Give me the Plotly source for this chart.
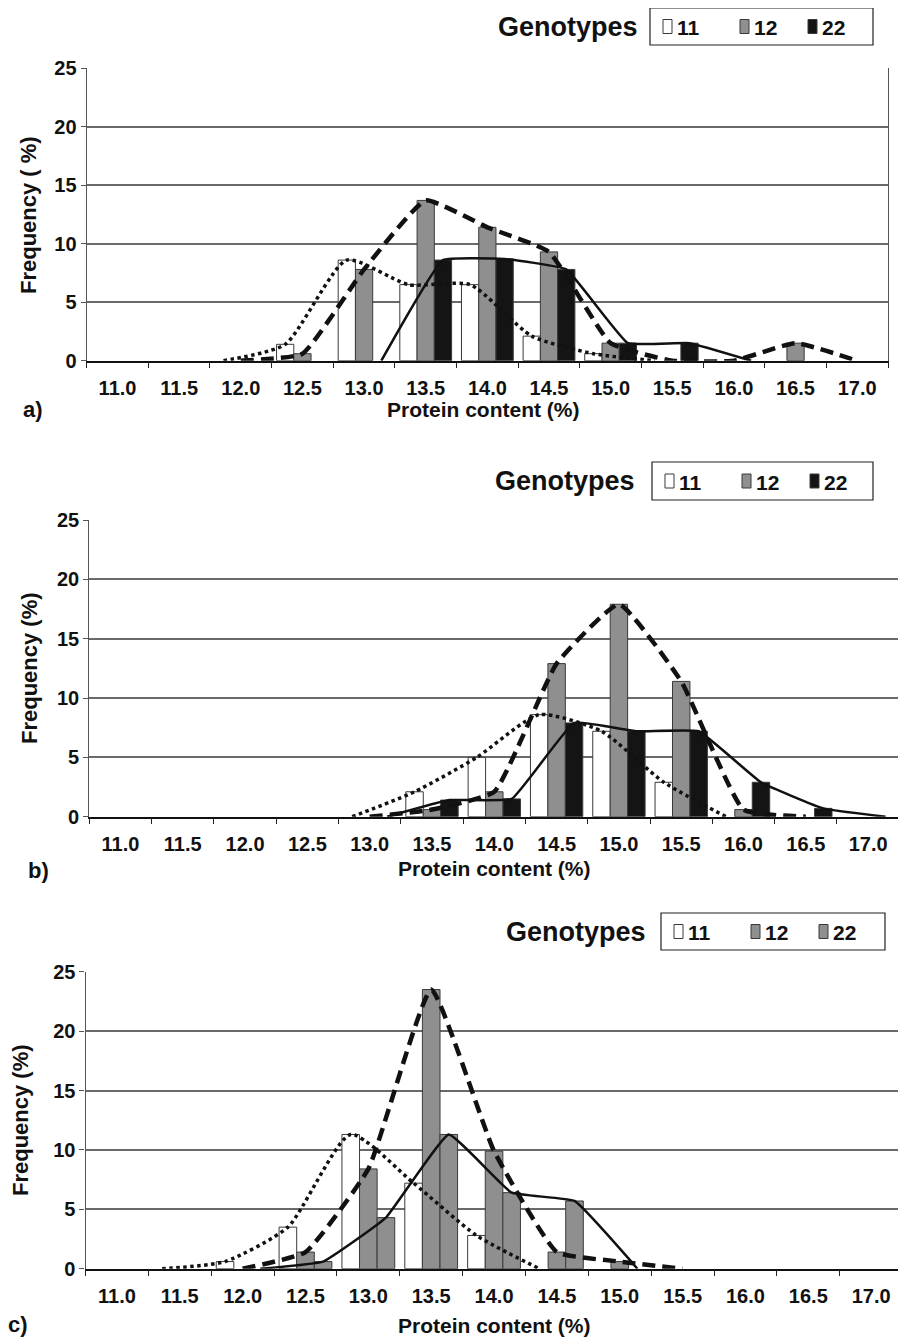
import plotly.graph_objects as go

PAGE_W, PAGE_H = 906, 1337
OFF = 8                      # default body margin of the html page
W, H = PAGE_W - OFF, PAGE_H - OFF

# ---------------- data ----------------
categories = [11.0, 11.5, 12.0, 12.5, 13.0, 13.5, 14.0, 14.5, 15.0, 15.5, 16.0, 16.5, 17.0]
tick_labels = ["11.0", "11.5", "12.0", "12.5", "13.0", "13.5", "14.0", "14.5",
               "15.0", "15.5", "16.0", "16.5", "17.0"]
genotypes = ["11", "12", "22"]

# panel a) frequency (%) per genotype
a_g11 = [0, 0, 0, 1.4, 8.6, 6.5, 6.5, 2.1, 0.6, 0, 0, 0, 0]
a_g12 = [0, 0, 0, 0.6, 7.8, 13.7, 11.4, 9.3, 1.5, 0, 0, 1.5, 0]
a_g22 = [0, 0, 0, 0, 0, 8.6, 8.7, 7.8, 1.5, 1.5, 0, 0, 0]

# panel b)
b_g11 = [0, 0, 0, 0, 0, 2.1, 5.0, 8.6, 7.2, 2.9, 0, 0, 0]
b_g12 = [0, 0, 0, 0, 0, 0.6, 2.1, 12.9, 17.9, 11.4, 0.6, 0, 0]
b_g22 = [0, 0, 0, 0, 0, 1.4, 1.5, 7.9, 7.2, 7.2, 2.9, 0.7, 0]

# panel c)
c_g11 = [0, 0, 0.6, 3.5, 11.3, 7.2, 2.8, 0, 0, 0, 0, 0, 0]
c_g12 = [0, 0, 0, 1.4, 8.4, 23.5, 9.9, 1.4, 0.6, 0, 0, 0, 0]
c_g22 = [0, 0, 0, 0.6, 4.3, 11.3, 6.4, 5.7, 0, 0, 0, 0, 0]

panel_labels = ["a)", "b)", "c)"]
y_titles = ["Frequency ( %)", "Frequency (%)", "Frequency (%)"]
x_title = "Protein content (%)"
legend_title = "Genotypes"

# ---------------- styling ----------------
FONT = "Liberation Sans, Arial, sans-serif"
INK = "#111111"
WHITE, GREY, BLACK = "#ffffff", "#8f8f8f", "#141414"
OUTLINE = "#3a3a3a"
bar_fill = [[WHITE, GREY, BLACK], [WHITE, GREY, BLACK], [WHITE, GREY, GREY]]
BAR_W = 0.14
offsets = [-0.21, -0.07, 0.07]
line_styles = [dict(dash="dot", width=3.5, smoothing=0.6),
               dict(dash="13px,7px", width=4.5, smoothing=0.4),
               dict(dash="solid", width=2.5, smoothing=0.3)]

# positions in page pixels
panels = [
    dict(data=[a_g11, a_g12, a_g22], x=(86.7, 888.0), y=(68.2, 360.7),
         gen=(640, 27), box=(650, 8, 873, 45), lab=(33, 410), xt=(483, 410), yt=(28, 215)),
    dict(data=[b_g11, b_g12, b_g22], x=(89.3, 899.3), y=(520.0, 816.7),
         gen=(637, 481), box=(652, 462, 873, 500), lab=(38, 870), xt=(494, 868), yt=(30, 668)),
    dict(data=[c_g11, c_g12, c_g22], x=(85.5, 902.6), y=(971.7, 1268.7),
         gen=(648, 932), box=(661, 913, 885, 950), lab=(18, 1324), xt=(494, 1325), yt=(20, 1120)),
]
legend_sym_dx = [13, 90, 158]


def px(x):
    return (x - OFF) / W


def py(y):
    return 1 - (y - OFF) / H


fig = go.Figure()
annotations = []
shapes = []
layout = {}

for p_i, p in enumerate(panels):
    sfx = "" if p_i == 0 else str(p_i + 1)
    xref, yref = "x" + sfx, "y" + sfx
    for s_i, vals in enumerate(p["data"]):
        fig.add_trace(go.Bar(
            x=categories, y=[v if v > 0 else None for v in vals],
            width=BAR_W, offset=offsets[s_i],
            marker=dict(color=bar_fill[p_i][s_i], line=dict(color=OUTLINE, width=1)),
            name=genotypes[s_i], xaxis=xref, yaxis=yref, showlegend=False,
        ))
    # frequency polygons through bar centres
    for s_i, vals in enumerate(p["data"]):
        nz = [i for i, v in enumerate(vals) if v > 0]
        lo, hi = max(nz[0] - 1, 0), min(nz[-1] + 1, len(vals) - 1)
        xs = [categories[i] + offsets[s_i] + BAR_W / 2 for i in range(lo, hi + 1)]
        ys = [vals[i] for i in range(lo, hi + 1)]
        fig.add_trace(go.Scatter(
            x=xs, y=ys, mode="lines", xaxis=xref, yaxis=yref, showlegend=False,
            line=dict(color=INK, shape="spline", **line_styles[s_i]),
            cliponaxis=False, name=genotypes[s_i],
        ))

    layout["xaxis" + sfx] = dict(
        domain=[px(p["x"][0]), px(p["x"][1])], anchor=yref,
        range=[10.75, 17.25], tickmode="array", tickvals=categories, ticktext=tick_labels,
        ticks="", ticklabelstandoff=9, showgrid=False, zeroline=False,
        showline=True, linecolor=INK, linewidth=1.5,
        tickfont=dict(family=FONT, size=20, color=INK, weight="bold"),
        minor=dict(tick0=10.75, dtick=0.5, ticks="outside", ticklen=6,
                   tickcolor="#222222", tickwidth=1.2, showgrid=False),
    )
    layout["yaxis" + sfx] = dict(
        domain=[py(p["y"][1]), py(p["y"][0])], anchor=xref,
        range=[0, 25], tickmode="array", tickvals=[0, 5, 10, 15, 20, 25],
        ticks="outside", ticklen=5, tickcolor="#555555",
        showgrid=True, gridcolor="#6a6a6a", gridwidth=1.5, zeroline=False,
        showline=True, linecolor="#555555", linewidth=1.2, mirror=True,
        tickfont=dict(family=FONT, size=20, color=INK, weight="bold"),
    )

    # legend box drawn by hand (title sits outside the frame, as in the original)
    bx0, by0, bx1, by1 = p["box"]
    shapes.append(dict(type="rect", xref="paper", yref="paper",
                       x0=px(bx0), x1=px(bx1), y0=py(by1), y1=py(by0),
                       line=dict(color="#222222", width=1.2), fillcolor="white", layer="above"))
    cy = (by0 + by1) / 2
    for s_i, g in enumerate(genotypes):
        sx = bx0 + legend_sym_dx[s_i]
        shapes.append(dict(type="rect", xref="paper", yref="paper",
                           x0=px(sx), x1=px(sx + 9), y0=py(cy + 7), y1=py(cy - 7),
                           line=dict(color=OUTLINE, width=1), fillcolor=bar_fill[p_i][s_i],
                           layer="above"))
        annotations.append(dict(text=g, x=px(sx + 12), y=py(cy + 1), xref="paper", yref="paper",
                                xanchor="left", yanchor="middle", showarrow=False,
                                font=dict(family=FONT, size=21, color=INK, weight="bold")))

    annotations.append(dict(text=legend_title, x=px(p["gen"][0]), y=py(p["gen"][1]),
                            xref="paper", yref="paper", xanchor="right", yanchor="middle",
                            showarrow=False,
                            font=dict(family=FONT, size=27, color=INK, weight="bold")))
    annotations.append(dict(text=panel_labels[p_i], x=px(p["lab"][0]), y=py(p["lab"][1]),
                            xref="paper", yref="paper", xanchor="center", yanchor="middle",
                            showarrow=False,
                            font=dict(family=FONT, size=22, color=INK, weight="bold")))
    annotations.append(dict(text=x_title, x=px(p["xt"][0]), y=py(p["xt"][1]),
                            xref="paper", yref="paper", xanchor="center", yanchor="middle",
                            showarrow=False,
                            font=dict(family=FONT, size=21, color=INK, weight="bold")))
    annotations.append(dict(text=y_titles[p_i], x=px(p["yt"][0]), y=py(p["yt"][1]),
                            xref="paper", yref="paper", xanchor="center", yanchor="middle",
                            textangle=-90, showarrow=False,
                            font=dict(family=FONT, size=22, color=INK, weight="bold")))

fig.update_layout(
    width=W, height=H, margin=dict(l=0, r=0, t=0, b=0, autoexpand=False),
    paper_bgcolor="white", plot_bgcolor="white", showlegend=False,
    barmode="overlay", annotations=annotations, shapes=shapes, **layout,
)

fig.write_html("out.html")
